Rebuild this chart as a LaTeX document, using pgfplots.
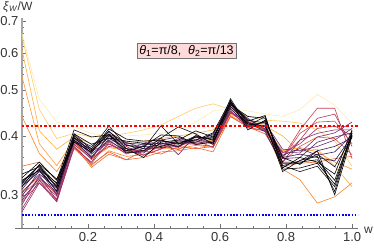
\documentclass[border=0pt]{standalone}
\usepackage{pgfplots}
\usepackage{pgfplotstable}
\pgfplotsset{compat=1.18}
\usepackage{fontspec}
\setmainfont{Liberation Sans}

\definecolor{cY1}{HTML}{FFEAB0}
\definecolor{cY2}{HTML}{FFCC66}
\definecolor{cY3}{HTML}{FFB040}
\definecolor{cY4}{HTML}{FF9A2E}
\definecolor{cY5}{HTML}{FA8426}
\definecolor{cY6}{HTML}{EE6A2C}
\definecolor{cR1}{HTML}{E65A38}
\definecolor{cR2}{HTML}{D64A46}
\definecolor{cR3}{HTML}{C43E52}
\definecolor{cR4}{HTML}{B2385A}
\definecolor{cP1}{HTML}{A03262}
\definecolor{cP2}{HTML}{8E2E68}
\definecolor{cP3}{HTML}{7C2C6C}
\definecolor{cP4}{HTML}{6A2A6C}
\definecolor{cP5}{HTML}{5A2668}
\definecolor{cP6}{HTML}{4A2260}
\definecolor{cP7}{HTML}{3C1E54}
\definecolor{cP8}{HTML}{2E1844}
\definecolor{cP9}{HTML}{221234}
\definecolor{cB1}{HTML}{181018}
\definecolor{cB2}{HTML}{0C080C}
\definecolor{cB3}{HTML}{000000}
\definecolor{legfill}{HTML}{FFDADA}

\pgfplotstableread{
name c0 c1 c2 c3 c4 c5 c6 c7 c8 c9 c10 c11 c12 c13 c14 c15 c16 c17 c18 c19
x 0 0.0526 0.1053 0.1579 0.2105 0.2632 0.3158 0.3684 0.4211 0.4737 0.5263 0.5789 0.6316 0.6842 0.7368 0.7895 0.8421 0.8947 0.9474 1
Y1 0.660 0.478 0.428 0.418 0.405 0.400 0.400 0.402 0.405 0.412 0.428 0.452 0.458 0.452 0.445 0.440 0.455 0.490 0.465 0.425
Y2 0.650 0.455 0.395 0.405 0.398 0.400 0.405 0.412 0.422 0.440 0.458 0.468 0.455 0.440 0.432 0.430 0.426 0.412 0.390 0.345
Y3 0.610 0.410 0.375 0.398 0.385 0.390 0.388 0.390 0.395 0.400 0.405 0.412 0.448 0.432 0.420 0.400 0.370 0.375 0.345 0.312
Y4 0.535 0.385 0.346 0.392 0.358 0.378 0.372 0.372 0.380 0.382 0.388 0.392 0.445 0.428 0.418 0.372 0.378 0.370 0.352 0.340
Y5 0.440 0.367 0.336 0.386 0.346 0.372 0.362 0.365 0.376 0.376 0.382 0.378 0.442 0.422 0.412 0.340 0.323 0.288 0.297 0.318
Y6 0.345 0.352 0.322 0.382 0.343 0.366 0.356 0.360 0.370 0.372 0.378 0.370 0.440 0.418 0.410 0.345 0.350 0.352 0.358 0.362
R1 0.305 0.328 0.300 0.376 0.348 0.370 0.356 0.372 0.366 0.380 0.376 0.380 0.440 0.418 0.404 0.352 0.380 0.398 0.395 0.365
R2 0.300 0.324 0.302 0.388 0.356 0.384 0.372 0.364 0.382 0.374 0.392 0.378 0.448 0.424 0.414 0.358 0.405 0.428 0.430 0.385
R3 0.295 0.322 0.290 0.380 0.350 0.388 0.366 0.376 0.376 0.386 0.384 0.388 0.452 0.416 0.410 0.360 0.412 0.458 0.458 0.358
R4 0.290 0.318 0.294 0.390 0.360 0.380 0.376 0.370 0.386 0.380 0.394 0.384 0.450 0.428 0.418 0.362 0.392 0.436 0.445 0.380
P1 0.276 0.318 0.290 0.378 0.352 0.395 0.380 0.364 0.375 0.392 0.384 0.380 0.448 0.430 0.410 0.368 0.385 0.415 0.420 0.400
P2 0.280 0.322 0.298 0.395 0.372 0.385 0.368 0.382 0.392 0.378 0.398 0.384 0.452 0.418 0.422 0.352 0.392 0.405 0.412 0.412
P3 0.286 0.330 0.292 0.384 0.358 0.402 0.384 0.372 0.380 0.395 0.388 0.398 0.462 0.434 0.412 0.370 0.368 0.398 0.406 0.428
P4 0.292 0.326 0.304 0.398 0.362 0.390 0.372 0.386 0.396 0.365 0.402 0.386 0.456 0.424 0.426 0.375 0.372 0.380 0.392 0.415
P5 0.298 0.338 0.300 0.390 0.376 0.404 0.388 0.376 0.384 0.390 0.392 0.402 0.468 0.436 0.414 0.358 0.360 0.388 0.398 0.406
P6 0.303 0.332 0.310 0.402 0.366 0.392 0.370 0.368 0.392 0.398 0.386 0.390 0.458 0.420 0.428 0.364 0.376 0.364 0.370 0.402
P7 0.308 0.342 0.304 0.392 0.360 0.400 0.382 0.380 0.378 0.380 0.398 0.396 0.466 0.428 0.408 0.346 0.354 0.372 0.380 0.396
P8 0.313 0.336 0.314 0.404 0.374 0.396 0.376 0.372 0.390 0.386 0.388 0.404 0.470 0.418 0.430 0.360 0.366 0.360 0.354 0.400
P9 0.318 0.346 0.310 0.396 0.380 0.408 0.386 0.384 0.386 0.380 0.400 0.392 0.474 0.426 0.418 0.350 0.350 0.366 0.344 0.398
B1 0.320 0.346 0.316 0.400 0.376 0.420 0.382 0.376 0.420 0.385 0.400 0.392 0.480 0.420 0.440 0.346 0.336 0.345 0.312 0.402
B2 0.326 0.352 0.322 0.412 0.398 0.402 0.368 0.372 0.396 0.418 0.404 0.384 0.472 0.432 0.426 0.336 0.355 0.362 0.305 0.410
B3 0.332 0.344 0.312 0.392 0.368 0.410 0.376 0.360 0.388 0.392 0.410 0.398 0.466 0.440 0.436 0.352 0.352 0.356 0.322 0.405
B4 0.316 0.340 0.318 0.404 0.384 0.396 0.390 0.386 0.380 0.388 0.392 0.406 0.476 0.412 0.432 0.360 0.348 0.372 0.300 0.400
B5 0.312 0.348 0.324 0.388 0.370 0.404 0.372 0.380 0.402 0.400 0.384 0.388 0.462 0.424 0.420 0.342 0.360 0.352 0.332 0.412
B6 0.322 0.338 0.306 0.396 0.372 0.414 0.394 0.390 0.392 0.384 0.398 0.394 0.470 0.430 0.442 0.340 0.342 0.350 0.316 0.406
}\rawdata
\pgfplotstabletranspose[colnames from=name]{\data}{\rawdata}

\begin{document}
\begin{tikzpicture}
\useasboundingbox (-15pt,-19pt) rectangle (359pt,228pt);
\begin{axis}[
  scale only axis, width=343pt, height=210pt,
  at={(0pt,0pt)}, anchor=south west,
  xmin=-0.0212, xmax=1.018,
  ymode=log, ymin=0.255, ymax=0.712,
  axis x line=bottom, axis y line=middle,
  axis line style={-},
  every outer x axis line/.append style={-, black!55, line width=0.6pt},
  every inner y axis line/.append style={-, black!35, line width=1.5pt},
  xtick={0.2,0.4,0.6,0.8,1.0}, xticklabels={0.2,0.4,0.6,0.8,1.0},
  minor xtick={0.05,0.1,0.15,0.25,0.3,0.35,0.45,0.5,0.55,0.65,0.7,0.75,0.85,0.9,0.95},
  ytick={0.3,0.4,0.5,0.6,0.7}, yticklabels={0.3,0.4,0.5,0.6,0.7},
  minor ytick={0.26,0.28,0.32,0.34,0.36,0.38,0.42,0.44,0.46,0.48,0.52,0.54,0.56,0.58,0.62,0.64,0.66,0.68},
  tick align=inside, major tick length=4pt, minor tick length=2pt,
  tick style={black!55, line width=0.5pt},
  ticklabel style={font=\fontsize{13}{15}\selectfont, text=black!80},
  xticklabel style={yshift=-1pt},
  /pgf/number format/assume math mode=true,
  every axis plot/.append style={line width=0.6pt},
]
\addplot[no marks, cY1] table[x=x,y=Y1]{\data};
\addplot[no marks, cY2] table[x=x,y=Y2]{\data};
\addplot[no marks, cY3] table[x=x,y=Y3]{\data};
\addplot[no marks, cY4] table[x=x,y=Y4]{\data};
\addplot[no marks, cY5] table[x=x,y=Y5]{\data};
\addplot[no marks, cY6] table[x=x,y=Y6]{\data};
\addplot[no marks, cR1] table[x=x,y=R1]{\data};
\addplot[no marks, cR2] table[x=x,y=R2]{\data};
\addplot[no marks, cR3] table[x=x,y=R3]{\data};
\addplot[no marks, cR4] table[x=x,y=R4]{\data};
\addplot[no marks, cP1] table[x=x,y=P1]{\data};
\addplot[no marks, cP2] table[x=x,y=P2]{\data};
\addplot[no marks, cP3] table[x=x,y=P3]{\data};
\addplot[no marks, cP4] table[x=x,y=P4]{\data};
\addplot[no marks, cP5] table[x=x,y=P5]{\data};
\addplot[no marks, cP6] table[x=x,y=P6]{\data};
\addplot[no marks, cP7] table[x=x,y=P7]{\data};
\addplot[no marks, cP8] table[x=x,y=P8]{\data};
\addplot[no marks, cP9] table[x=x,y=P9]{\data};
\addplot[no marks, cB1] table[x=x,y=B1]{\data};
\addplot[no marks, cB2] table[x=x,y=B2]{\data};
\addplot[no marks, cB3] table[x=x,y=B3]{\data};
\addplot[no marks, cB3] table[x=x,y=B4]{\data};
\addplot[no marks, cB3] table[x=x,y=B5]{\data};
\addplot[no marks, cB3] table[x=x,y=B6]{\data};
\addplot[no marks, red, line width=1.1pt, dash pattern=on 2.5pt off 2pt] coordinates {(0,0.42) (1.018,0.42)};
\addplot[no marks, blue, line width=1.4pt, dash pattern=on 1.6pt off 1.6pt] coordinates {(0,0.272) (1.018,0.272)};
\end{axis}
\node[anchor=base west, inner sep=0pt, font=\fontsize{12}{14}\selectfont, text=black!80] at (-12pt,218pt) {\textit{ξ}\textsubscript{\textit{W}}/W};
\node[anchor=base west, inner sep=0pt, font=\fontsize{12}{14}\selectfont, text=black!80] at (349pt,-5pt) {w};
\node[draw=black!55, line width=0.5pt, fill=legfill, inner xsep=2.5pt, inner ysep=2pt, font=\fontsize{12.5}{14}\selectfont] at (171.5pt,177pt) {\textit{θ}\textsubscript{1}=π/8,\ \ \textit{θ}\textsubscript{2}=π/13};
\end{tikzpicture}
\end{document}
